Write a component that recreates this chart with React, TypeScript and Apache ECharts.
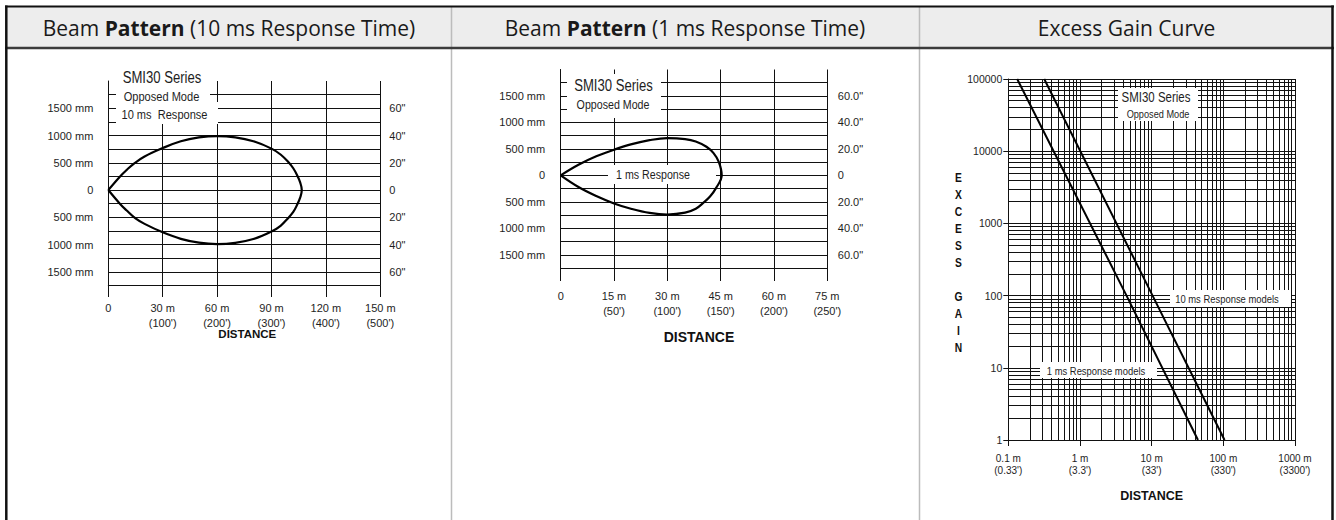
import React, { useEffect, useRef } from 'react';
import * as echarts from 'echarts';

// ---------- Panel 1: Beam pattern (10 ms response) ----------
const beam10XTicks = [0, 30, 60, 90, 120, 150];
const beam10XMeters = ['0', '30 m', '60 m', '90 m', '120 m', '150 m'];
const beam10XFeet = ['', "(100')", "(200')", "(300')", "(400')", "(500')"];
const beamYTicks = [1500, 1000, 500, 0, -500, -1000, -1500];
const beamYMm = ['1500 mm', '1000 mm', '500 mm', '0', '500 mm', '1000 mm', '1500 mm'];
const beam10YInch = ['60"', '40"', '20"', '0', '20"', '40"', '60"'];
const beam10UpperX = [0, 6.5, 10, 14, 20, 30, 40, 50, 60, 70, 80, 90, 95, 99.4, 102, 104, 105.8, 106.7];
const beam10UpperY = [0, 250, 365, 480, 615, 770, 895, 965, 990, 967, 895, 760, 652, 510, 400, 280, 140, 0];
const beam10LowerX = [105.8, 104, 102, 99, 95, 90, 80, 70, 60, 50, 40, 30, 20, 15, 10, 6.5, 0];
const beam10LowerY = [-140, -280, -400, -520, -655, -760, -898, -968, -990, -965, -895, -775, -620, -520, -370, -255, 0];

// ---------- Panel 2: Beam pattern (1 ms response) ----------
const beam1XTicks = [0, 15, 30, 45, 60, 75];
const beam1XMeters = ['0', '15 m', '30 m', '45 m', '60 m', '75 m'];
const beam1XFeet = ['', "(50')", "(100')", "(150')", "(200')", "(250')"];
const beam1YInch = ['60.0"', '40.0"', '20.0"', '0', '20.0"', '40.0"', '60.0"'];
const beam1UpperX = [0, 5, 10, 15, 20, 25, 30, 35, 38, 41, 43, 44.5, 45.3];
const beam1UpperY = [0, 200, 360, 485, 590, 665, 702, 685, 640, 540, 420, 250, 0];
const beam1LowerX = [43.6, 42, 40.1, 38, 35, 30, 25, 20, 15, 10, 5, 0];
const beam1LowerY = [-250, -400, -520, -630, -705, -740, -710, -635, -530, -390, -220, 0];

// ---------- Panel 3: Excess gain curve ----------
const gainXTicks = [0.1, 1, 10, 100, 1000];
const gainXMeters = ['0.1 m', '1 m', '10 m', '100 m', '1000 m'];
const gainXFeet = ["(0.33')", "(3.3')", "(33')", "(330')", "(3300')"];
const gainYTicks = [1, 10, 100, 1000, 10000, 100000];
const gainYLabels = ['1', '10', '100', '1000', '10000', '100000'];
const gain1msDist = [0.133, 4.46, 44.3];
const gain1msValue = [100000, 100, 1];
const gain10msDist = [0.317, 10.3, 104];
const gain10msValue = [100000, 100, 1];

const SANS = "'Liberation Sans', Arial, Helvetica, sans-serif";
const HEAD = "'Open Sans', 'Noto Sans', sans-serif";
const INK = '#1e1e1e';
const NARROW_SCALE = 0.82;

function pick(ticks: number[], labels: string[], v: number, log = false): string {
  for (let i = 0; i < ticks.length; i++) {
    const t = ticks[i];
    const same = log ? Math.abs(Math.log10(v) - Math.log10(t)) < 1e-6 : Math.abs(v - t) < 1e-6;
    if (same) return labels[i];
  }
  return '';
}
function twoLines(a: string[], b: string[]): string[] {
  return a.map((s, i) => (b[i] ? s + '\n' + b[i] : s));
}
function zip(xs: number[], ys: number[]): number[][] {
  return xs.map((x, i) => [x, ys[i]]);
}

const beam10XLabels = twoLines(beam10XMeters, beam10XFeet);
const beam1XLabels = twoLines(beam1XMeters, beam1XFeet);
const gainXLabels = twoLines(gainXMeters, gainXFeet);

const black = { color: '#111', width: 1 };

function beamX(grid: number, max: number, interval: number, labels: string[], ticks: number[], tickLen: number, margin: number, lineH: number, nameGap: number, nameSize: number, namePad: number[]) {
  return {
    type: 'value', gridIndex: grid, min: 0, max, interval,
    axisLine: { show: true, onZero: false, lineStyle: black },
    axisTick: { show: true, length: tickLen, lineStyle: black },
    splitLine: { show: true, lineStyle: black },
    axisLabel: {
      formatter: (v: number) => pick(ticks, labels, v), fontFamily: SANS, fontSize: 11,
      lineHeight: lineH, margin, color: INK,
    },
    name: 'DISTANCE', nameLocation: 'middle', nameGap, nameMoveOverlap: false,
    nameTextStyle: { fontFamily: SANS, fontWeight: 'bold', fontSize: nameSize, color: '#111', padding: namePad },
  };
}
function beamY(grid: number, right: boolean, labels: string[], margin: number) {
  return {
    type: 'value', gridIndex: grid, min: -1750, max: 2000, interval: 250,
    position: right ? 'right' : 'left',
    axisLine: { show: !right, lineStyle: black },
    axisTick: { show: false },
    splitLine: { show: !right, showMaxLine: false, lineStyle: black },
    axisLabel: {
      formatter: (v: number) => pick(beamYTicks, labels, v), fontFamily: SANS, fontSize: 11,
      margin, color: INK,
    },
  };
}

function txt(x: number, y: number, text: string, size: number, extra: any = {}) {
  return {
    type: 'text', x, y, z: 22, scaleX: NARROW_SCALE,
    style: { text, fontFamily: SANS, fontSize: size, fill: INK, align: 'center', verticalAlign: 'middle', ...extra },
  };
}
function box(x: number, y: number, w: number, h: number) {
  return { type: 'rect', z: 20, shape: { x, y, width: w, height: h }, style: { fill: '#ffffff' } };
}
function hline(x1: number, x2: number, y: number, stroke: string, w: number) {
  return { type: 'line', z: 21, shape: { x1, y1: y, x2, y2: y }, style: { stroke, lineWidth: w } };
}
function vline(x: number, y1: number, y2: number, stroke: string, w: number) {
  return { type: 'line', z: 21, shape: { x1: x, y1, x2: x, y2 }, style: { stroke, lineWidth: w } };
}
function header(x: number, bold: string | null, pre: string, post: string) {
  const text = bold ? `{n|${pre}}{b|${bold}}{n|${post}}` : `{n|${pre}}`;
  return {
    type: 'text', x, y: 28, z: 22,
    style: {
      text, align: 'center', verticalAlign: 'middle',
      rich: {
        n: { fontFamily: HEAD, fontSize: 21, fill: '#1a1a1a' },
        b: { fontFamily: HEAD, fontSize: 21, fontWeight: 'bold', fill: '#1a1a1a' },
      },
    },
  };
}

const lineStyle = (w: number) => ({ color: '#000', width: w });

export default function App() {
  const ref = useRef<HTMLDivElement>(null);
  useEffect(() => {
    if (!ref.current) return;
    const chart = echarts.init(ref.current, null, { renderer: 'svg' });
    const option: any = {
      animation: false,
      backgroundColor: '#ffffff',
      grid: [
        { left: 108.3, top: 81, width: 272, height: 204.5, outerBoundsMode: 'none' },
        { left: 560.7, top: 69.5, width: 266.6, height: 198.5, outerBoundsMode: 'none' },
        { left: 1008.3, top: 79, width: 286.7, height: 361, outerBoundsMode: 'none' },
      ],
      xAxis: [
        beamX(0, 150, 30, beam10XLabels, beam10XTicks, 11.5, 14.5, 15, 42, 11.5, [0, 0, 0, 6]),
        beamX(1, 75, 15, beam1XLabels, beam1XTicks, 13, 20, 15.5, 62, 14, [0, 0, 0, 10]),
        {
          type: 'log', logBase: 10, gridIndex: 2, min: 0.1, max: 1000,
          axisLine: { show: true, onZero: false, lineStyle: black },
          axisTick: { show: true, length: 6, lineStyle: black },
          minorTick: { show: false, splitNumber: 9 },
          splitLine: { show: true, lineStyle: black },
          minorSplitLine: { show: true, lineStyle: black },
          axisLabel: {
            formatter: (v: number) => pick(gainXTicks, gainXLabels, v, true), fontFamily: SANS,
            fontSize: 10, lineHeight: 12, margin: 12.5, color: INK,
          },
          name: 'DISTANCE', nameLocation: 'middle', nameGap: 49, nameMoveOverlap: false,
          nameTextStyle: { fontFamily: SANS, fontWeight: 'bold', fontSize: 12.5, color: '#111' },
        },
      ],
      yAxis: [
        beamY(0, false, beamYMm, 15),
        beamY(0, true, beam10YInch, 9),
        beamY(1, false, beamYMm, 15.5),
        beamY(1, true, beam1YInch, 10.5),
        {
          type: 'log', logBase: 10, gridIndex: 2, min: 1, max: 100000,
          axisLine: { show: true, onZero: false, lineStyle: black },
          axisTick: { show: true, length: 5, lineStyle: black },
          minorTick: { show: false, splitNumber: 9 },
          splitLine: { show: true, lineStyle: black },
          minorSplitLine: { show: true, lineStyle: black },
          axisLabel: {
            formatter: (v: number) => pick(gainYTicks, gainYLabels, v, true), fontFamily: SANS,
            fontSize: 10.5, margin: 6, color: INK,
          },
        },
      ],
      series: [
        {
          name: '10 ms beam', type: 'line', xAxisIndex: 0, yAxisIndex: 0, z: 30,
          data: zip(beam10UpperX, beam10UpperY).concat(zip(beam10LowerX, beam10LowerY)),
          smooth: 0.4, symbol: 'none', lineStyle: lineStyle(2.2),
        },
        {
          name: '1 ms beam', type: 'line', xAxisIndex: 1, yAxisIndex: 2, z: 30,
          data: zip(beam1UpperX, beam1UpperY).concat(zip(beam1LowerX, beam1LowerY)),
          smooth: 0.4, symbol: 'none', lineStyle: lineStyle(2.2),
        },
        {
          name: '1 ms Response models', type: 'line', xAxisIndex: 2, yAxisIndex: 4, z: 30,
          data: zip(gain1msDist, gain1msValue), symbol: 'none', lineStyle: lineStyle(2),
        },
        {
          name: '10 ms Response models', type: 'line', xAxisIndex: 2, yAxisIndex: 4, z: 30,
          data: zip(gain10msDist, gain10msValue), symbol: 'none', lineStyle: lineStyle(2),
        },
      ],
      graphic: {
        elements: [
          // header band and frame
          { type: 'rect', z: 20, shape: { x: 6, y: 7, width: 1327, height: 40 }, style: { fill: '#ededed' } },
          vline(451.5, 7, 520, '#bcbcbc', 1.5),
          vline(919.5, 7, 520, '#bcbcbc', 1.5),
          hline(5, 1334, 6.5, '#111', 2.2),
          hline(5, 1334, 48, '#3c3c3c', 2.5),
          vline(6.3, 5.5, 520, '#111', 2.5),
          vline(1332.5, 5.5, 520, '#111', 2.5),
          header(229, 'Pattern', 'Beam ', ' (10 ms Response Time)'),
          header(685, 'Pattern', 'Beam ', ' (1 ms Response Time)'),
          header(1126.5, null, 'Excess Gain Curve', ''),
          // panel 1 annotations
          box(116, 80, 94, 22),
          box(116, 102, 102, 22),
          txt(162, 77.5, 'SMI30 Series', 16),
          txt(161.5, 96.5, 'Opposed Mode', 13.5),
          txt(164.5, 115, '10 ms  Response', 13.5),
          // panel 2 annotations
          box(567, 74, 94, 44),
          txt(613.5, 85.7, 'SMI30 Series', 16),
          txt(613, 104.3, 'Opposed Mode', 13),
          box(608, 165, 108, 19),
          txt(653, 174.5, '1 ms Response', 13),
          // panel 3 annotations
          box(1118, 88, 80, 33),
          txt(1156, 97.5, 'SMI30 Series', 14),
          txt(1158, 114, 'Opposed Mode', 11.2),
          box(1170, 290, 121, 17),
          txt(1227, 299, '10 ms Response models', 11.5),
          box(1040, 362, 117, 16),
          txt(1096, 370.5, '1 ms Response models', 11.5),
          txt(958.5, 263, 'E\nX\nC\nE\nS\nS\n\nG\nA\nI\nN', 12.5, { fontWeight: 'bold', lineHeight: 17, fill: '#111' }),
        ],
      },
    };
    chart.setOption(option);
    return () => chart.dispose();
  }, []);
  return <div ref={ref} style={{ position: 'absolute', left: 0, top: 0, width: 1336, height: 520 }} />;
}
